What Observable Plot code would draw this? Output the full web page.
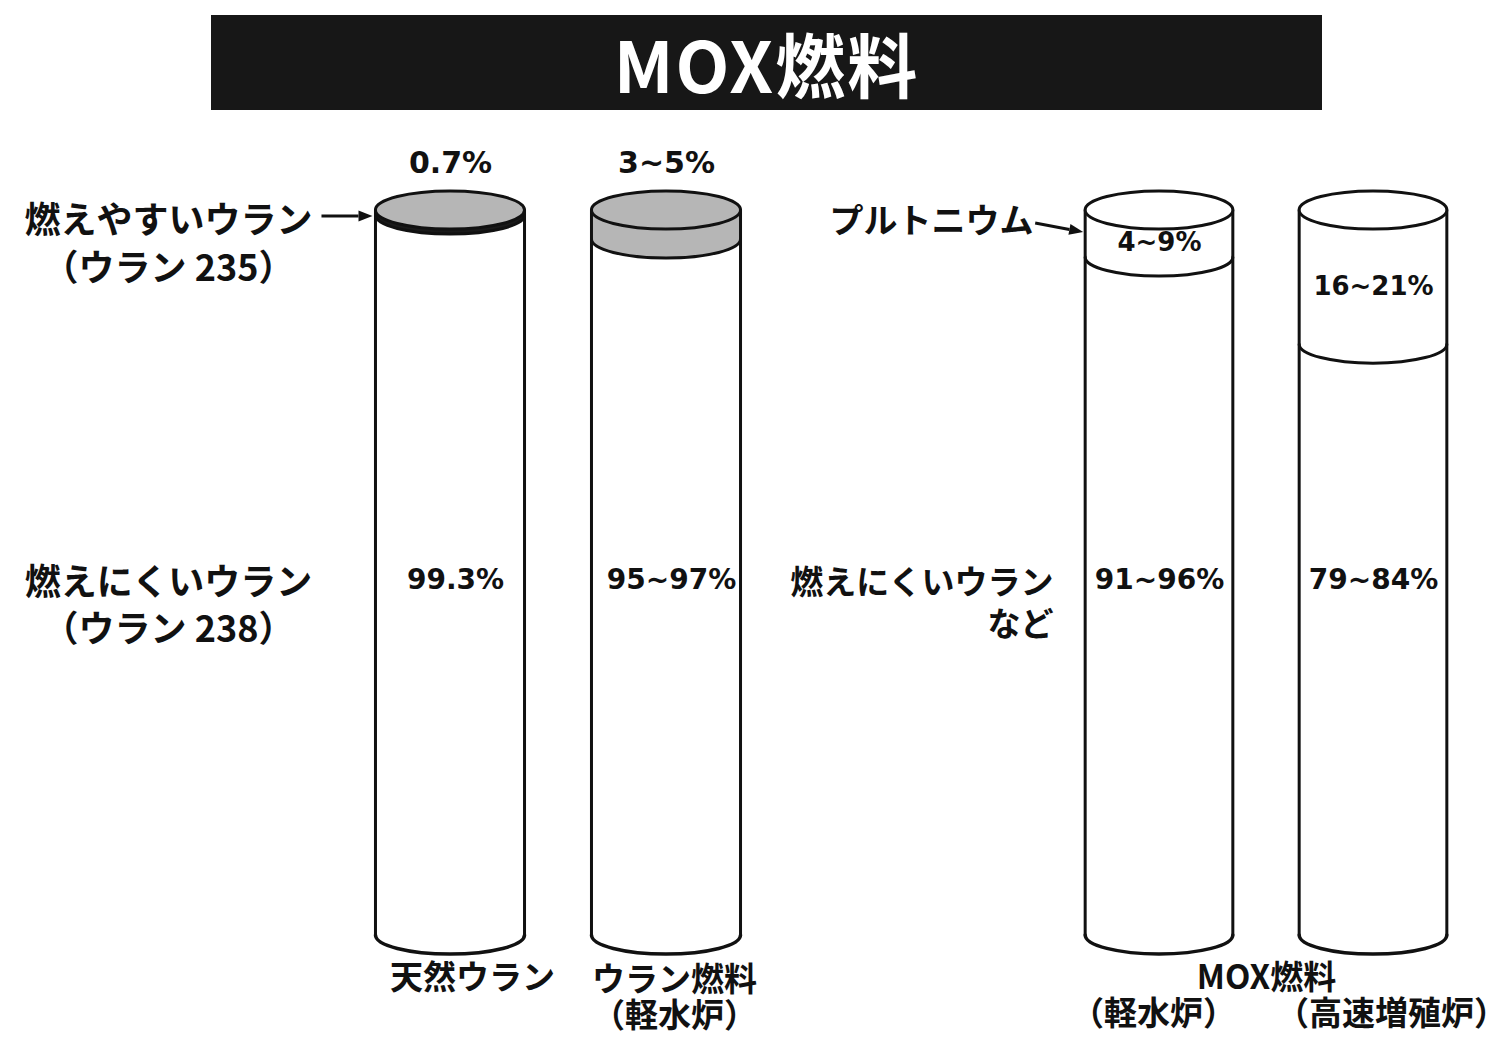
<!DOCTYPE html>
<html><head><meta charset="utf-8">
<script src="https://cdn.jsdelivr.net/npm/d3@7"></script>
<script src="https://cdn.jsdelivr.net/npm/@observablehq/plot@0.6"></script>
<style>
html,body{margin:0;padding:0;background:#fff;}
#page{width:1510px;height:1038px;position:relative;overflow:hidden;background:#fff;}
#title{position:absolute;left:211px;top:15px;width:1111px;height:95px;background:#171717;color:#fff;
  font-family:"Noto Sans CJK JP",sans-serif;font-weight:700;font-size:70px;line-height:95px;text-align:center;letter-spacing:2px;}
#panels{position:absolute;left:0;top:130px;display:flex;width:1510px;}
#panels svg{display:block;max-width:none;overflow:visible;}
</style></head><body>
<div id="page"><div id="title"></div><div id="panels"></div></div>
<script>
// ---------------- data ----------------
const chartTitle = "MOX燃料";
const fuels = ["天然ウラン", "ウラン燃料（軽水炉）", "MOX燃料（軽水炉）", "MOX燃料（高速増殖炉）"];
const groups = ["ウラン", "ウラン", "MOX", "MOX"];
const fissileKind = ["ウラン235", "ウラン235", "プルトニウム", "プルトニウム"];
const fissileShare = [0.7, 4, 6.5, 18.5];           // % (midpoint of the stated range)
const fissileLabels = ["0.7%", "3~5%", "4~9%", "16~21%"];
const fertileLabels = ["99.3%", "95~97%", "91~96%", "79~84%"];
const fuelLabels = ["天然ウラン", "ウラン燃料\n（軽水炉）", "（軽水炉）", "（高速増殖炉）"];
const groupLabel = "MOX燃料";
const noteTexts = ["燃えやすいウラン\n（ウラン 235）", "燃えにくいウラン\n（ウラン 238）", "プルトニウム", "燃えにくいウラン\nなど"];

// ---------------- styles ----------------
const GRAY = "#b6b6b6", INK = "#111", SW = 3, RY = 19;
const JP = "'Noto Sans CJK JP', sans-serif";
const NUM = "'DejaVu Sans', sans-serif";
const NS = "http://www.w3.org/2000/svg";
function el(tag, attrs, parent) {
  const e = document.createElementNS(NS, tag);
  for (const k in attrs) e.setAttribute(k, attrs[k]);
  if (parent) parent.appendChild(e);
  return e;
}

document.getElementById("title").textContent = chartTitle;

const rows = fuels.map((fuel, i) => ({
  fuel, group: groups[i], kind: fissileKind[i], share: fissileShare[i],
  topLabel: fissileLabels[i], bottomLabel: fertileLabels[i], name: fuelLabels[i]
}));

// cylinders drawn with the plot's x (band) and y (percent) scales
function cylinderMark(data) {
  return (index, scales) => {
    const {x, y} = scales;
    const bw = typeof x.bandwidth === "function" ? x.bandwidth() : x.bandwidth;
    const g = el("g", {"stroke-linejoin": "round", "stroke-linecap": "round"});
    for (const d of data) {
      const x0 = x(d.fuel), x1 = x0 + bw, rx = bw / 2, cx = x0 + rx;
      const yt = y(0), yb = y(100), ys = y(d.share);
      const topFill = d.kind === "ウラン235" ? GRAY : "#fff";
      const sideFill = (ys - yt) < 8 ? "#1a1a1a" : topFill;
      el("path", {d: `M${x0},${ys}A${rx},${RY} 0 0 0 ${x1},${ys}L${x1},${yb}A${rx},${RY} 0 0 1 ${x0},${yb}Z`, fill: "#fff"}, g);
      el("path", {d: `M${x0},${yt}L${x0},${ys}A${rx},${RY} 0 0 0 ${x1},${ys}L${x1},${yt}Z`, fill: sideFill}, g);
      el("path", {d: `M${x0},${ys}A${rx},${RY} 0 0 0 ${x1},${ys}`, fill: "none", stroke: INK, "stroke-width": SW}, g);
      el("path", {d: `M${x0},${yt}L${x0},${yb}M${x1},${yt}L${x1},${yb}`, fill: "none", stroke: INK, "stroke-width": SW}, g);
      el("path", {d: `M${x0},${yb}A${rx},${RY} 0 0 0 ${x1},${yb}`, fill: "none", stroke: INK, "stroke-width": SW + 0.5}, g);
      el("ellipse", {cx, cy: yt, rx, ry: RY, fill: topFill, stroke: INK, "stroke-width": SW}, g);
    }
    return g;
  };
}

// pointer arrow from a note to the left edge of a cylinder
function arrowMark(target, fx, fy, tx, ty) {
  return (index, scales) => {
    const {x, y} = scales;
    const x0 = x(target), y0 = y(0);
    const ax1 = x0 + fx, ay1 = y0 + fy, ax2 = x0 + tx, ay2 = y0 + ty;
    const a = Math.atan2(ay2 - ay1, ax2 - ax1), L = 14, W = 5.5;
    const bx = ax2 - L * Math.cos(a), by = ay2 - L * Math.sin(a);
    const g = el("g", {});
    el("path", {d: `M${ax1},${ay1}L${bx},${by}`, stroke: INK, "stroke-width": 3, fill: "none"}, g);
    el("path", {d: `M${ax2},${ay2}L${bx - W * Math.sin(a)},${by + W * Math.cos(a)}L${bx + W * Math.sin(a)},${by - W * Math.cos(a)}Z`, fill: INK}, g);
    return g;
  };
}

function basePlot(data, width, marginLeft, marginRight, marks) {
  return Plot.plot({
    width, height: 908,
    marginLeft, marginRight, marginTop: 80, marginBottom: 103,
    style: {background: "transparent", overflow: "visible"},
    x: {type: "band", domain: data.map(d => d.fuel), paddingInner: 0.31, paddingOuter: 0.155, round: false, axis: null},
    y: {domain: [0, 100], reverse: true, axis: null},
    marks: [cylinderMark(data), ...marks]
  });
}

const uran = rows.filter(d => d.group === "ウラン");
const mox = rows.filter(d => d.group === "MOX");

const jpText = {fontFamily: JP, fontWeight: 700, fill: INK};
const numText = {fontFamily: NUM, fontWeight: 700, fill: INK};

const left = basePlot(uran, 780, 342, 6, [
  Plot.text(uran, {x: "fuel", y: 0, dy: -47, text: "topLabel", fontSize: 30, ...numText}),
  Plot.text(uran, {x: "fuel", y: 51, dx: 5, text: "bottomLabel", fontSize: 28, ...numText}),
  Plot.text([noteTexts[0]], {x: () => fuels[0], y: 0, dy: 31, dx: -282, text: d => d, fontSize: 36, lineHeight: 1.33, ...jpText}),
  Plot.text([noteTexts[1]], {x: () => fuels[0], y: 51, dy: 23, dx: -282, text: d => d, fontSize: 36, lineHeight: 1.3, ...jpText}),
  arrowMark(fuels[0], -54, 6, -3, 6),
  Plot.text([uran[0]], {x: "fuel", y: 100, dy: 30, dx: 22, lineAnchor: "top", text: "name", fontSize: 33, ...jpText}),
  Plot.text([uran[1]], {x: "fuel", y: 100, dy: 30, dx: 8, lineAnchor: "top", lineHeight: 1.09, text: "name", fontSize: 33, ...jpText})
]);

const right = basePlot(mox, 730, 272, 30, [
  Plot.text(mox, {x: "fuel", y: d => d.share / 2, dy: 9, text: "topLabel", fontSize: 26, ...numText}),
  Plot.text(mox, {x: "fuel", y: 51, text: "bottomLabel", fontSize: 28, ...numText}),
  Plot.text([noteTexts[2]], {x: () => fuels[2], y: 0, dy: 12, dx: -126, textAnchor: "end", text: d => d, fontSize: 34, ...jpText}),
  Plot.text([noteTexts[3]], {x: () => fuels[2], y: 51, dy: 21, dx: -106, textAnchor: "end", lineHeight: 1.27, text: d => d, fontSize: 33, ...jpText}),
  arrowMark(fuels[2], -50, 13, -2, 22),
  Plot.text([groupLabel], {frameAnchor: "bottom", dy: 30, lineAnchor: "top", text: d => d, fontSize: 33, ...jpText}),
  Plot.text([mox[0]], {x: "fuel", y: 100, dy: 66, dx: -6, lineAnchor: "top", text: "name", fontSize: 33, ...jpText}),
  Plot.text([mox[1]], {x: "fuel", y: 100, dy: 66, dx: 18, lineAnchor: "top", text: "name", fontSize: 33, ...jpText})
]);

const panels = document.getElementById("panels");
panels.appendChild(left);
panels.appendChild(right);
</script>
</body></html>
